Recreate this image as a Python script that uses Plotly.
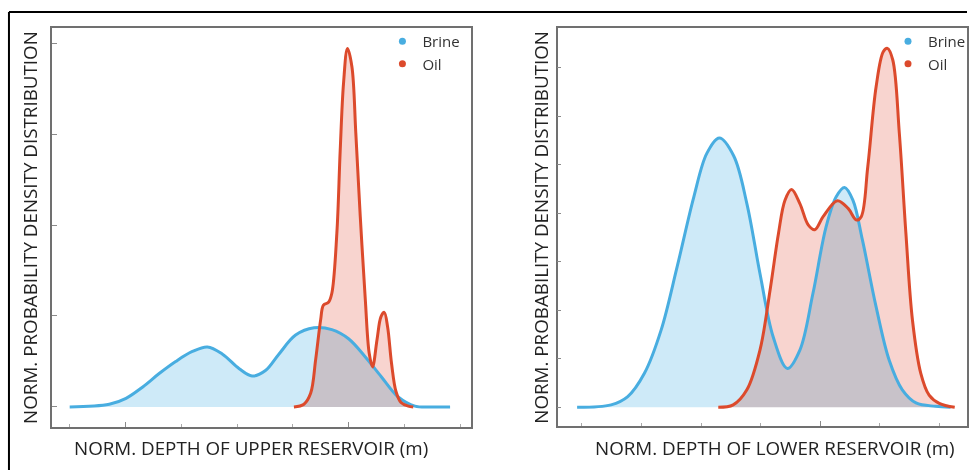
import plotly.graph_objects as go

# ---------------- data (normalised units) ----------------
upper_brine_x = [0.0, 0.71, 1.01, 1.31, 1.61, 1.90, 2.20, 2.47, 2.74, 3.04, 3.27, 3.51, 3.75, 4.05,
                 4.38, 4.70, 5.00, 5.30, 5.59, 5.89, 6.19, 6.50, 6.82]
upper_brine_y = [0.0, 0.03, 0.095, 0.22, 0.37, 0.50, 0.61, 0.66, 0.58, 0.42, 0.34, 0.40, 0.58, 0.79,
                 0.87, 0.85, 0.75, 0.55, 0.33, 0.11, 0.01, 0.0, 0.0]

upper_oil_x = [4.02, 4.20, 4.32, 4.41, 4.50, 4.55, 4.64, 4.70, 4.79, 4.85, 4.91, 4.98, 5.06, 5.13,
               5.21, 5.30, 5.37, 5.43, 5.51, 5.58, 5.64, 5.70, 5.77, 5.85, 5.94, 6.07, 6.16]
upper_oil_y = [0.0, 0.03, 0.15, 0.52, 0.96, 1.12, 1.15, 1.25, 1.91, 2.82, 3.56, 3.94, 3.74, 3.01,
               2.09, 1.18, 0.59, 0.44, 0.74, 0.99, 1.04, 0.88, 0.48, 0.17, 0.05, 0.01, 0.0]

lower_brine_x = [-0.08, 0.49, 0.77, 1.05, 1.33, 1.60, 1.88, 2.10, 2.31, 2.55, 2.77, 2.99, 3.21, 3.45,
                 3.66, 3.88, 4.10, 4.27, 4.41, 4.55, 4.71, 4.94, 5.16, 5.38, 5.61, 5.94, 6.19]
lower_brine_y = [0.0, 0.05, 0.22, 0.70, 1.59, 2.90, 4.34, 5.24, 5.55, 5.18, 4.20, 2.76, 1.46, 0.80,
                 1.18, 2.35, 3.72, 4.34, 4.53, 4.27, 3.45, 2.07, 0.97, 0.36, 0.09, 0.02, 0.0]

lower_oil_x = [2.29, 2.54, 2.77, 2.99, 3.16, 3.30, 3.41, 3.52, 3.66, 3.80, 3.91, 4.05, 4.29, 4.47,
               4.61, 4.69, 4.80, 4.94, 5.06, 5.13, 5.22, 5.33, 5.44, 5.55, 5.69, 5.83, 6.00, 6.26]
lower_oil_y = [0.0, 0.05, 0.36, 1.18, 2.42, 3.58, 4.27, 4.49, 4.20, 3.76, 3.66, 3.93, 4.26, 4.10,
               3.86, 3.93, 4.96, 6.61, 7.33, 7.40, 7.16, 5.65, 3.59, 1.80, 0.70, 0.25, 0.08, 0.0]

series_names = ["Brine", "Oil"]
x_titles = ["NORM. DEPTH OF UPPER RESERVOIR (m)", "NORM. DEPTH OF LOWER RESERVOIR (m)"]
y_title = "NORM. PROBABILITY DENSITY DISTRIBUTION"

# ---------------- styles ----------------
BLUE_LINE = "#48ade0"
RED_LINE = "#dc4a2c"
BLUE_FILL = "#ceeaf8"
RED_FILL = "#f8d4cf"
FONT = "Open Sans"
TITLE_SIZE = 18.8

W, H = 971, 470
def px(v):
    return v / W
def py(v):
    return 1 - v / H

fig = go.Figure()

panels = [
    (upper_brine_x, upper_brine_y, upper_oil_x, upper_oil_y, "x", "y", "legend"),
    (lower_brine_x, lower_brine_y, lower_oil_x, lower_oil_y, "x2", "y2", "legend2"),
]

# fills first (blended), then lines on top
for bx, by, ox, oy, xa, ya, lg in panels:
    for xs, ys, col in [(bx, by, BLUE_FILL), (ox, oy, RED_FILL)]:
        fig.add_trace(go.Scatter(x=xs, y=ys, mode="none", fill="tozeroy", fillcolor=col,
                                 line=dict(shape="spline", smoothing=1.0),
                                 xaxis=xa, yaxis=ya, showlegend=False, hoverinfo="skip"))
for bx, by, ox, oy, xa, ya, lg in panels:
    for xs, ys, col in [(bx, by, BLUE_LINE), (ox, oy, RED_LINE)]:
        fig.add_trace(go.Scatter(x=xs, y=ys, mode="lines",
                                 line=dict(color=col, width=3, shape="spline", smoothing=1.0),
                                 xaxis=xa, yaxis=ya, showlegend=False, hoverinfo="skip"))
    for name, col in zip(series_names, [BLUE_LINE, RED_LINE]):
        fig.add_trace(go.Scatter(x=[None], y=[None], mode="markers", name=name,
                                 marker=dict(color=col, size=7), xaxis=xa, yaxis=ya,
                                 legend=lg, showlegend=True))

axis_common = dict(showgrid=False, zeroline=False, showticklabels=False, showline=True,
                   linecolor="#707070", linewidth=1.5, mirror=True, ticks="inside",
                   tickcolor="#8a8a8a", tickwidth=1)

fig.update_layout(
    width=W, height=H,
    margin=dict(l=0, r=0, t=0, b=0),
    paper_bgcolor="white", plot_bgcolor="white",
    font=dict(family=FONT, color="#222222"),
    xaxis=dict(domain=[px(52), px(473)], range=[-0.321, 7.196], anchor="y",
               tick0=1, dtick=4, ticklen=5,
               minor=dict(dtick=1, tick0=0, ticks="inside", ticklen=3, tickcolor="#aaaaaa"),
               **axis_common),
    yaxis=dict(domain=[py(427), py(28)], range=[-0.22, 4.165], anchor="x",
               tick0=0, dtick=1, ticklen=5, **axis_common),
    xaxis2=dict(domain=[px(560), 1.0], range=[-0.406, 6.466], anchor="y2",
                tick0=4, dtick=10, ticklen=5,
                minor=dict(dtick=1, tick0=0, ticks="inside", ticklen=3, tickcolor="#aaaaaa"),
                **axis_common),
    yaxis2=dict(domain=[py(426), py(28)], range=[-0.386, 7.82], anchor="x2",
                tick0=0, dtick=1, ticklen=4, **axis_common),
    legend=dict(x=px(384), y=py(25), xanchor="left", yanchor="top", bgcolor="rgba(0,0,0,0)",
                font=dict(size=15, color="#333333"), tracegroupgap=0, itemwidth=30),
    legend2=dict(x=px(892), y=py(25), xanchor="left", yanchor="top", bgcolor="rgba(0,0,0,0)",
                 font=dict(size=15, color="#333333"), tracegroupgap=0, itemwidth=30),
)

# axis titles
ann = dict(xref="paper", yref="paper", showarrow=False, xanchor="center", yanchor="middle",
           font=dict(size=TITLE_SIZE, color="#222222"))
fig.add_annotation(text=x_titles[0], x=px(252), y=py(448), **ann)
fig.add_annotation(text=x_titles[1], x=px(778), y=py(448), **ann)
fig.add_annotation(text=y_title, x=px(30), y=py(227), textangle=-90, **ann)
fig.add_annotation(text=y_title, x=px(543), y=py(227), textangle=-90, **ann)

# black frame (top and left edges)
fig.add_shape(type="line", xref="paper", yref="paper", x0=px(9), x1=1.0, y0=py(12), y1=py(12),
              line=dict(color="black", width=2))
fig.add_shape(type="line", xref="paper", yref="paper", x0=px(9), x1=px(9), y0=py(12), y1=0.0,
              line=dict(color="black", width=2))

post = """
var gd = document.getElementById('{plot_id}');
function blendFills(){
  gd.querySelectorAll('g.trace.scatter').forEach(function(t){
    var f = t.querySelector('path.js-fill');
    if (f && f.getAttribute('d') && f.getAttribute('d').length > 5) { t.style.mixBlendMode = 'multiply'; }
  });
}
blendFills();
gd.on('plotly_afterplot', blendFills);
"""

fig.write_html("out.html", post_script=post, config=dict(displayModeBar=False))
